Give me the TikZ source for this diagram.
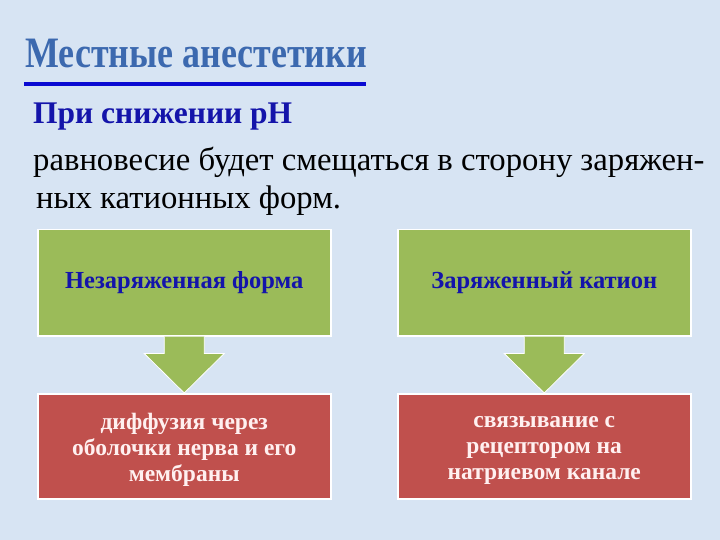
\documentclass[tikz,border=0pt]{standalone}
\usepackage{fontspec}
\setmainfont{Liberation Serif}
\usetikzlibrary{calc}
\definecolor{bgc}{RGB}{215,228,243}
\definecolor{greenc}{RGB}{155,187,89}
\definecolor{redc}{RGB}{192,80,77}
\definecolor{darkblue}{RGB}{20,20,170}
\definecolor{titleblue}{RGB}{60,105,175}
\definecolor{lineblue}{RGB}{10,10,210}
\definecolor{pinkwhite}{RGB}{255,240,240}
\tikzset{
  greenbox/.style={draw=white, line width=1.5pt, fill=greenc, minimum width=293pt, minimum height=106pt, anchor=north west, font=\fontsize{24.5}{26}\selectfont\bfseries, text=darkblue},
  redbox/.style={draw=white, line width=1.5pt, fill=redc, minimum width=293pt, minimum height=105pt, anchor=north west},
  redtext/.style={font=\fontsize{23.5}{26}\selectfont\bfseries, text=pinkwhite, align=center, yshift=-4pt},
  downarrow/.style={fill=greenc, draw=white, line width=0.8pt}
}
\begin{document}
\begin{tikzpicture}[x=1pt,y=-1pt]
\fill[bgc] (0,0) rectangle (720,540);
\useasboundingbox (0,0) rectangle (720,540);
% title
\node[anchor=base west, inner sep=0pt, text=titleblue, font=\fontsize{31}{31}\selectfont\bfseries, xscale=1.16, yscale=1.4] (title) at (25,68) {Местные анестетики};
\draw[lineblue, line width=3.5pt] (24,84) -- (366,84);
% heading
\node[anchor=base west, inner sep=0pt, text=darkblue, font=\fontsize{31.5}{31.5}\selectfont\bfseries] (head) at (33,124) {При снижении рН};
\node[anchor=base west, inner sep=0pt, font=\fontsize{32.7}{32.7}\selectfont] (l1) at (33,171) {равновесие будет смещаться в сторону заряжен-};
\node[anchor=base west, inner sep=0pt, font=\fontsize{32.7}{32.7}\selectfont] (l2) at (36,208) {ных катионных форм.};
% boxes
\node[greenbox] (g1) at (37,229) {Незаряженная форма};
\node[greenbox] (g2) at (397,229) {Заряженный катион};
\node[redbox, label={[redtext]center:диффузия через\\оболочки нерва и его\\мембраны}] (r1) at (37,393) {};
\node[redbox, label={[redtext]center:связывание с\\рецептором на\\натриевом канале}] (r2) at (397,393) {};
% arrows
\draw[downarrow] ($(g1.south)+(-20,0)$) -- ($(g1.south)+(-20,17)$) -- ($(g1.south)+(-40,17)$) -- (r1.north) -- ($(g1.south)+(40,17)$) -- ($(g1.south)+(20,17)$) -- ($(g1.south)+(20,0)$);
\draw[downarrow] ($(g2.south)+(-20,0)$) -- ($(g2.south)+(-20,17)$) -- ($(g2.south)+(-40,17)$) -- (r2.north) -- ($(g2.south)+(40,17)$) -- ($(g2.south)+(20,17)$) -- ($(g2.south)+(20,0)$);
\end{tikzpicture}
\end{document}
